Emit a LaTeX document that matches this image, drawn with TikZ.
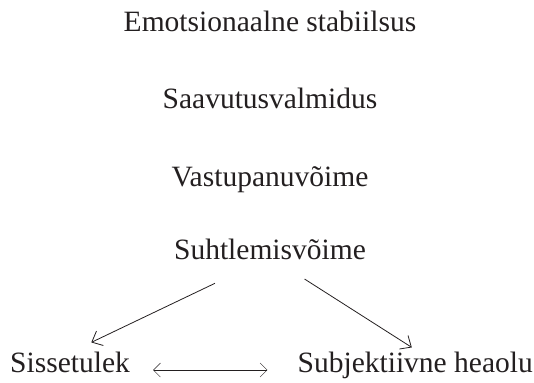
\documentclass[tikz,border=0pt]{standalone}
\usepackage{fontspec}
\setmainfont{Liberation Serif}
\usetikzlibrary{arrows.meta}
\definecolor{ink}{HTML}{231F20}
\begin{document}
\begin{tikzpicture}[x=1pt,y=-1pt,
  lbl/.style={inner sep=0pt, text=ink, font=\fontsize{29.5}{35}\selectfont, text height=0.7em, text depth=0.3em},
  arr/.style={draw=ink, line width=0.8pt, -{Straight Barb[length=9pt,width=16pt]}},
  darr/.style={draw=ink, line width=0.5pt, {Straight Barb[length=7pt,width=14pt]}-{Straight Barb[length=7pt,width=14pt]}}]
\useasboundingbox (0,0) rectangle (534,382);
\node[lbl, anchor=base] (e) at (270,32) {Emotsionaalne stabiilsus};
\node[lbl, anchor=base] (sv) at (270,109) {Saavutusvalmidus};
\node[lbl, anchor=base] (v) at (270,186) {Vastupanuvõime};
\node[lbl, anchor=base] (s) at (270,259) {Suhtlemisvõime};
\node[lbl, anchor=base west] (a) at (10,372) {Sissetulek};
\node[lbl, anchor=base east] (b) at (533,372) {Subjektiivne heaolu};
\draw[arr, shorten <=61pt, shorten >=64pt] (s.center) -- ([xshift=-36.5pt]a.center);
\draw[arr, shorten <=41pt, shorten >=42pt] (s.center) -- ([xshift=32pt]b.center);
\draw[darr, shorten <=23pt, shorten >=30pt] (a.east) -- (b.west);
\end{tikzpicture}
\end{document}
